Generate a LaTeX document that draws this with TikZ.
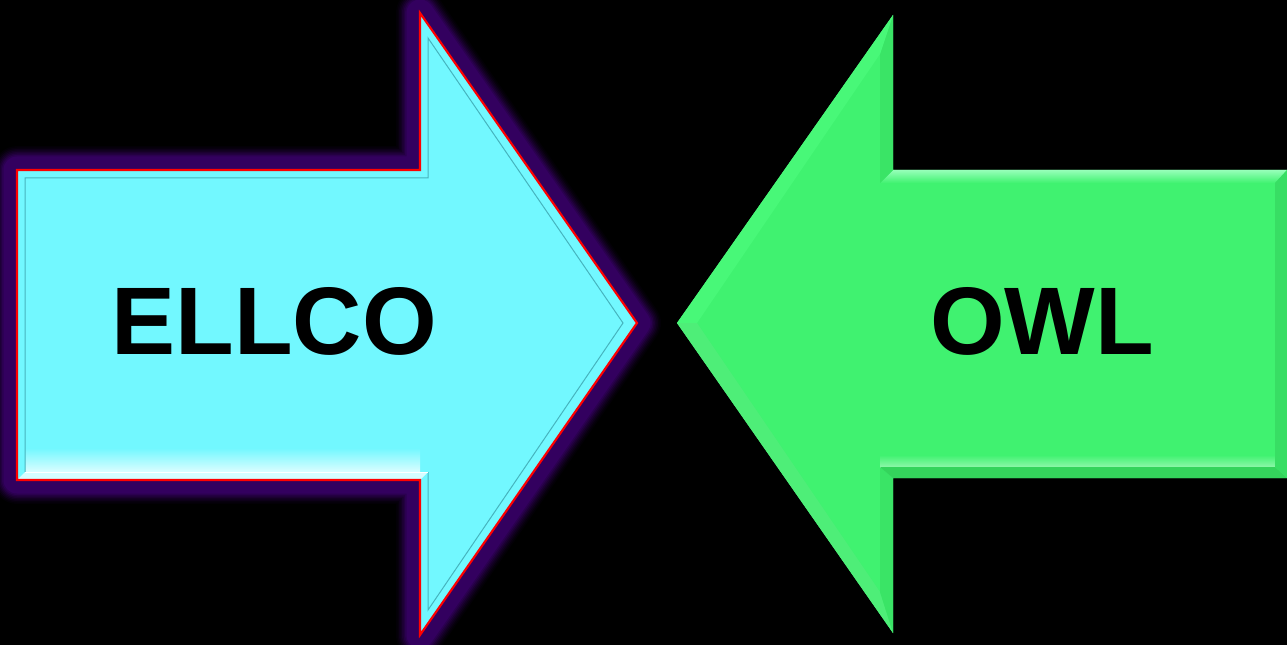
\documentclass[tikz,border=0pt]{standalone}
\usepackage{fontspec}
\setmainfont{Liberation Sans}
\definecolor{cyanfill}{RGB}{114,248,255}
\definecolor{cyanline}{RGB}{70,180,190}
\definecolor{greenfill}{RGB}{64,242,112}
\definecolor{glowpurple}{RGB}{51,0,95}
\definecolor{gtop}{RGB}{150,255,185}
\definecolor{gvert}{RGB}{58,228,102}
\definecolor{gdiagup}{RGB}{72,248,120}
\definecolor{gdiaglo}{RGB}{78,238,120}
\definecolor{gbottom}{RGB}{52,212,92}
\definecolor{gright}{RGB}{56,222,100}
\tikzset{
  labeltext/.style={font=\fontsize{72}{72}\bfseries\selectfont, text=black, anchor=base, inner sep=0pt},
  glowline/.style={line join=round, line width=#1}
}
\begin{document}
\begin{tikzpicture}[x=0.75pt,y=-0.75pt]
\fill[black] (0,0) rectangle (1287,645);
\useasboundingbox (0,0) rectangle (1287,645);
% cyan arrow outline
\def\cyanpath{(17,170) -- (420,170) -- (420,13) -- (637,323) -- (420,635) -- (420,480) -- (17,480) -- cycle}
\foreach \w/\k in {48/6, 45/14, 42/25, 39/38, 36/52, 33/68, 30/84, 27/100}
  \draw[glowline=\w*0.75pt, draw=glowpurple!\k!black] \cyanpath;
\fill[cyanfill] \cyanpath;
\shade[top color=cyanfill, bottom color=white!75!cyanfill] (25,448) rectangle (420,472);
\fill[white!70!cyanfill] (17,480) -- (420,480) -- (428,472) -- (25,472) -- cycle;
\draw[cyanline, line width=0.75pt] (25,472) -- (25,178) -- (428,178) -- (428,38) -- (623,323) -- (428,610) -- (428,472);
\draw[white, line width=0.75pt] (25,472) -- (428,472);
\draw[red, line width=1.6pt, line join=miter] \cyanpath;
\node[labeltext] (ellco) at (274,354) {ELLCO};
% green arrow
\coordinate (o1) at (1287,170); \coordinate (o2) at (893,170); \coordinate (o3) at (893,15);
\coordinate (o4) at (677,323); \coordinate (o5) at (893,633); \coordinate (o6) at (893,478);
\coordinate (o7) at (1287,478);
\coordinate (i1) at (1275,183); \coordinate (i2) at (880,183); \coordinate (i3) at (880,54);
\coordinate (i4) at (697,323); \coordinate (i5) at (880,592); \coordinate (i6) at (880,467);
\coordinate (i7) at (1275,467);
\fill[greenfill] (o1) -- (o2) -- (o3) -- (o4) -- (o5) -- (o6) -- (o7) -- cycle;
\shade[top color=gtop, bottom color=greenfill] (o1) -- (o2) -- (i2) -- (i1) -- cycle;
\fill[gvert] (o2) -- (o3) -- (i3) -- (i2) -- cycle;
\fill[gdiagup] (o3) -- (o4) -- (i4) -- (i3) -- cycle;
\fill[gdiaglo] (o4) -- (o5) -- (i5) -- (i4) -- cycle;
\fill[gvert] (o5) -- (o6) -- (i6) -- (i5) -- cycle;
\shade[top color=greenfill, bottom color=white!40!greenfill] (880,455) rectangle (1275,467);
\fill[gbottom] (o6) -- (o7) -- (i7) -- (i6) -- cycle;
\fill[gright] (o7) -- (o1) -- (i1) -- (i7) -- cycle;
\node[labeltext] (owl) at (1042,354) {OWL};
\end{tikzpicture}
\end{document}
